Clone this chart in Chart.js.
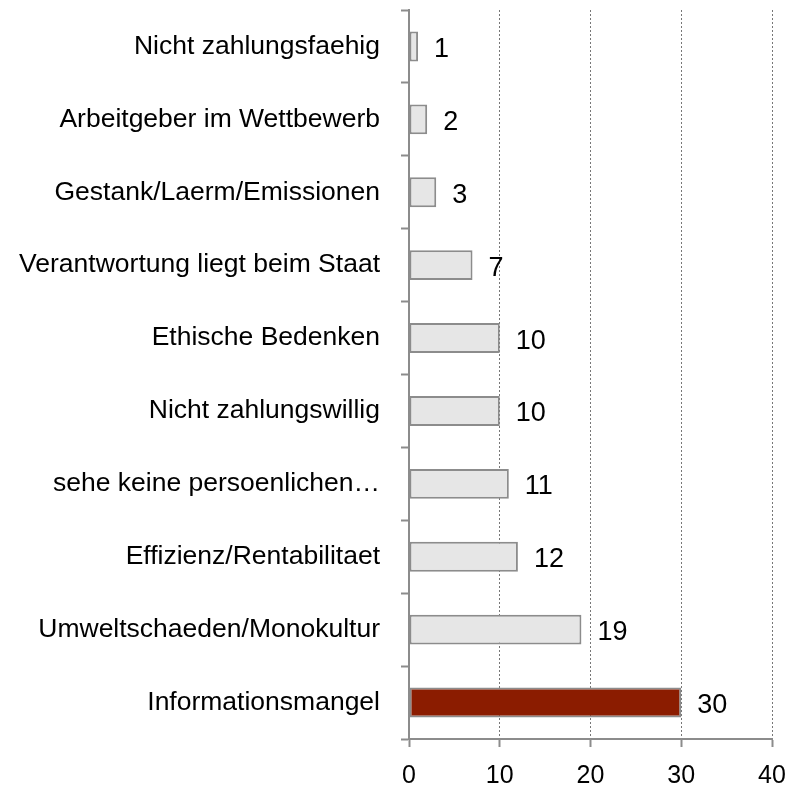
<!DOCTYPE html>
<html>
<head>
<meta charset="utf-8">
<script src="https://cdn.jsdelivr.net/npm/chart.js@4/dist/chart.umd.min.js"></script>
<style>
  html, body { margin: 0; padding: 0; background: #fff; }
  #wrap { width: 793px; height: 790px; position: relative; }
</style>
</head>
<body>
<div id="wrap"><canvas id="chart"></canvas></div>
<script>
  var CATEGORIES = [
    'Nicht zahlungsfaehig',
    'Arbeitgeber im Wettbewerb',
    'Gestank/Laerm/Emissionen',
    'Verantwortung liegt beim Staat',
    'Ethische Bedenken',
    'Nicht zahlungswillig',
    'sehe keine persoenlichen\u2026',
    'Effizienz/Rentabilitaet',
    'Umweltschaeden/Monokultur',
    'Informationsmangel'
  ];
  var VALUES = [1, 2, 3, 7, 10, 10, 11, 12, 19, 30];
  var X_TICKS = [0, 10, 20, 30, 40];

  var LIGHT = '#e6e6e6', DARK_RED = '#8b1c00', EDGE = '#8c8c8c', AXIS = '#8c8c8c';
  var FONT = "'Liberation Sans', Arial, Helvetica, sans-serif";

  var valueLabels = {
    id: 'valueLabels',
    afterDatasetsDraw: function(chart) {
      var ctx = chart.ctx;
      var meta = chart.getDatasetMeta(0);
      ctx.save();
      ctx.font = '27px ' + FONT;
      ctx.fillStyle = '#000';
      ctx.textAlign = 'left';
      ctx.textBaseline = 'middle';
      meta.data.forEach(function(bar, i) {
        ctx.fillText(String(VALUES[i]), bar.x + 16, bar.y + 3);
      });
      ctx.restore();
    }
  };

  new Chart(document.getElementById('chart'), {
    type: 'bar',
    data: {
      labels: CATEGORIES,
      datasets: [{
        data: VALUES,
        backgroundColor: VALUES.map(function(v, i) { return i === VALUES.length - 1 ? DARK_RED : LIGHT; }),
        borderColor: EDGE,
        borderWidth: 2,
        borderSkipped: false,
        categoryPercentage: 1,
        barPercentage: 0.41
      }]
    },
    options: {
      indexAxis: 'y',
      responsive: true,
      maintainAspectRatio: false,
      animation: false,
      layout: { padding: { top: 10, right: 21, left: 0, bottom: 0 } },
      plugins: { legend: { display: false }, tooltip: { enabled: false } },
      scales: {
        x: {
          min: X_TICKS[0],
          max: X_TICKS[X_TICKS.length - 1],
          afterBuildTicks: function(scale) { scale.ticks = X_TICKS.map(function(v) { return { value: v }; }); },
          afterFit: function(scale) {
            scale.height = 51;
            scale.paddingLeft = 0;
            scale.paddingRight = 0;
          },
          grid: {
            color: function(c) { return c.index === 0 ? 'rgba(0,0,0,0)' : '#777'; },
            lineWidth: 1,
            tickLength: 8,
            tickColor: AXIS,
            tickWidth: 2
          },
          border: { color: AXIS, width: 2, dash: [2, 2] },
          ticks: { color: '#000', padding: 14, font: { family: FONT, size: 25 } }
        },
        y: {
          afterFit: function(scale) {
            scale.width = 409;
            scale.paddingTop = 0;
            scale.paddingBottom = 0;
          },
          grid: {
            drawOnChartArea: false,
            offset: true,
            tickLength: 8,
            tickColor: AXIS,
            tickWidth: 2
          },
          border: { color: AXIS, width: 2 },
          ticks: { color: '#000', padding: 21, font: { family: FONT, size: 26.5 } }
        }
      }
    },
    plugins: [valueLabels]
  });
</script>
</body>
</html>
